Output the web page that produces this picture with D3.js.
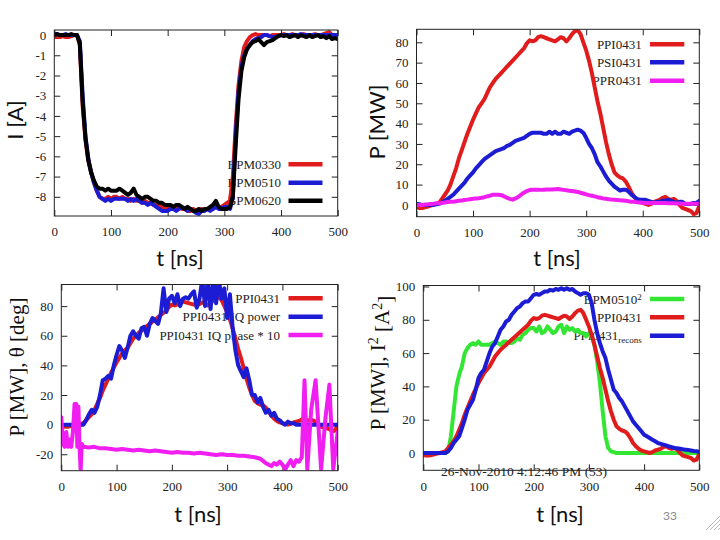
<!DOCTYPE html>
<html><head><meta charset="utf-8">
<script src="https://cdn.jsdelivr.net/npm/d3@7"></script>
<style>body{margin:0;background:#fff} svg{display:block}</style>
</head><body>
<svg id="c" width="720" height="540"></svg>
<script>
// ---------------- DATA ----------------
const tGrid = [0,5,10,15,20,25,30,35,40,45,50,55,60,65,70,75,80,85,90,95,
  100,105,110,115,120,125,130,135,140,145,150,155,160,165,170,175,180,185,190,195,
  200,205,210,215,220,225,230,235,240,245,250,255,260,265,270,275,280,285,290,295,
  300,305,310,315,320,325,330,335,340,345,350,355,360,365,370,375,380,385,390,395,
  400,405,410,415,420,425,430,435,440,445,450,455,460,465,470,475,480,485,490,495,500];
const xTicks = [0,100,200,300,400,500];

// Panel 1: beam current I [A]
const bpm0330 = [-0.1,-0.1,-0.1,-0.05,-0.1,-0.1,-0.05,0,0,
  -0.5,-3.5,-5.2,-6.2,-6.8,-7.3,-7.7,-8.0,-8.1,-8.1,-8.0,
  -8.1,-8.0,-8.0,-8.1,-8.0,-8.1,-8.1,-8.2,-8.1,-8.2,
  -8.2,-8.3,-8.2,-8.3,-8.3,-8.4,-8.4,-8.4,-8.5,-8.5,
  -8.5,-8.5,-8.6,-8.5,-8.5,-8.6,-8.6,-8.7,-8.7,-8.6,
  -8.7,-8.7,-8.6,-8.7,-8.6,-8.6,-8.6,-8.5,-8.5,-8.5,
  -8.4,-8.3,-8.2,-7.0,-4.5,-2.5,-1.3,-0.6,-0.3,-0.1,
  0,0.05,0,0,0,0,-0.05,0,0,0,
  0,0.05,0,0,0.05,0,0,0,0.05,0,
  0,0,0.05,0,0,0.05,0.1,0.15,0,0,
  -0.05];
const bpm0510 = [0.05,0.05,0,0,0.05,0,0,0,0,
  -0.3,-3.0,-5.0,-6.1,-6.8,-7.3,-7.7,-8.0,-8.1,-8.2,-8.1,
  -8.2,-8.1,-8.1,-8.1,-8.1,-8.1,-8.2,-8.1,-8.2,-8.1,
  -8.2,-8.3,-8.3,-8.4,-8.3,-8.4,-8.5,-8.6,-8.7,-8.7,
  -8.7,-8.6,-8.6,-8.7,-8.6,-8.5,-8.6,-8.7,-8.6,-8.7,
  -8.8,-8.85,-8.7,-8.7,-8.6,-8.7,-8.6,-8.5,-8.6,-8.6,
  -8.5,-8.5,-8.6,-8.0,-5.0,-2.8,-1.6,-1.0,-0.7,-0.5,
  -0.3,-0.2,-0.15,-0.1,0,0,-0.05,-0.1,-0.1,-0.05,
  0,0,0,0,0,0,0,0.05,0,0,
  0,0,0,0,0,0,0,0,0,0,
  0];
const bpm0620 = [0,0.05,0,0,0,0,0.05,0,0,
  -0.4,-3.3,-5.1,-6.2,-6.8,-7.2,-7.5,-7.6,-7.6,-7.7,-7.6,
  -7.7,-7.7,-7.7,-7.6,-7.7,-7.8,-7.9,-7.8,-7.6,-7.9,
  -8.0,-8.1,-8.0,-8.0,-8.1,-8.2,-8.2,-8.3,-8.3,-8.4,
  -8.4,-8.4,-8.5,-8.4,-8.4,-8.5,-8.6,-8.5,-8.6,-8.7,
  -8.7,-8.6,-8.7,-8.6,-8.6,-8.5,-8.4,-8.2,-8.5,-8.6,
  -8.6,-8.6,-8.5,-8.0,-5.5,-3.2,-1.8,-1.1,-0.7,-0.5,
  -0.35,-0.3,-0.2,-0.35,-0.5,-0.35,-0.3,-0.25,-0.15,-0.05,
  0,-0.05,0,-0.1,-0.05,0,-0.1,0,-0.05,-0.1,
  0,-0.1,-0.05,0,-0.1,-0.05,-0.15,-0.05,-0.2,-0.15,
  -0.2];

// Panel 2: RF power P [MW]
const ppi0431 = [-1.2,-1.5,-1.5,-1.2,-0.8,-0.3,0,0.5,1.0,
  3,5,7,10,14,18,23,27,31,35,38.5,
  42,45,48,50,52,55,58,60,62,63.5,
  65,66.5,68,69.5,71,72.5,74,75.5,77,79.5,
  81,80.5,81,82.5,83,82.5,82,81.5,81,80.5,
  81.5,82.5,82,80.5,82,84,85.5,86,84,80,
  76,71,65,58,51,45,38,31,25,20,
  16,14.5,13.5,13,11.5,9,6,4,2.5,1.5,
  1,0.5,0,0.5,1.5,2,2.5,3.5,4,3,
  2.5,3,2,0,-1.5,-2,-2.5,-3,-4.5,-4,
  -0.5];
const psi0431 = [0.5,0.3,0,0,0,0,0,0.3,0.5,
  1.2,2,3,4,5,6.5,8,9.5,11,13,14.5,
  16,18,19.5,21,22.5,23.5,24.5,25.5,26.5,27,
  27.5,28,29,29.5,30.5,31.5,32,32.5,33,34,
  35,35.5,35.5,35.5,35.5,35,35,36,35,36,
  35,35,36,35.5,35,36,36.5,37,36.5,35.5,
  33,30,28,25,21,19,16.5,14,12,10.5,
  9,8,7,7.5,7.5,6.5,5,4,3,2.5,
  2.5,2.5,2,1.5,1,1.5,1.5,2,2,2.5,
  2,1.5,1,1.5,1.5,0.5,0.5,0.5,1,1,
  2];
const ppr0431 = [0,0,0,0.2,0.3,0.5,0.6,0.8,0.8,
  1,1.2,1.4,1.5,1.6,1.8,2,2.2,2.4,2.6,2.8,
  3,3.2,3.3,3.5,3.8,4.2,4.6,5,5,5,
  4.8,4.2,3.5,3,2.6,3.2,4,5,6,6.8,
  7.3,7.5,7.5,7.5,7.4,7.5,7.6,7.6,7.6,7.7,
  7.8,7.6,7.4,7.2,7,6.8,6.6,6.4,6,5.6,
  5.2,4.8,4.5,4.2,3.8,3.5,3.2,3,2.8,2.6,
  2.5,2.4,2.3,2.2,2,1.8,1.6,1.5,1.3,1.2,
  1.1,1,1,1,0.9,0.9,0.9,0.9,0.9,0.8,
  0.8,0.8,0.7,0.7,0.6,0.6,0.6,0.6,0.6,0.6,
  0.6];

// Panel 3: IQ power and phase
const iqPower = [0,0,0,0,0,0,0,0,0,
  3,7,10,8,12,20,30,31,33,31,40,
  47,53,50,45,52,60,63,60,58,65,
  66,60,68,72,70,68,75,92,76,85,
  87,82,88,80,85,86,85,88,90,79,
  85,98,80,98,78,98,82,98,85,92,
  72,88,65,50,40,36,32,38,30,20,
  20,15,18,12,8,10,6,8,4,3,
  1,0,2,1,1,0,0,0,0,0,
  0,0,0,0,0,0,0,0,0,0,
  0];
const tPhase = [0,3,6,9,12,15,18,21,24,27,29,31,33,35,37,40,
  50,60,70,80,90,100,110,120,130,140,150,160,170,180,190,200,
  210,220,230,240,250,260,270,280,290,300,310,320,330,340,350,
  360,370,380,385,390,395,400,405,410,415,420,425,430,435,
  440,445,452,460,470,478,485,492,500];
const iqPhase10 = [5,-13,-15,-5,-15,-10,-15,-5,14,14,-15,12,-15,-31,-13,-15,
  -15.5,-15,-16,-16,-16.5,-17,-16.5,-17,-17.5,-17,-17.5,-18,-17.5,-18,-18.5,-19,
  -18.5,-19,-19,-19.5,-19,-19.5,-20,-20.5,-20,-20.5,-20.5,-21,-21,-21.5,-22,
  -23,-26,-28,-26,-27,-25,-27,-30,-27,-24,-28,-24,-25,-22,
  30,-30,10,30,-30,5,27,-30,-5];

// Panel 4: BPM current squared, power, reconstruction
const bpm0510sq = [0,0,0,0,0,0,0,0,0,
  1,10,25,40,47,52,60,63,65,66,65,
  67,65,65,65,65,66,67,66,65,67,
  67,66,66,67,69,68,71,72,74,75,
  75,73,76,72,73,76,74,72,73,76,
  77,72,76,74,75,73,74,72,72,70,
  72,70,65,55,42,25,10,3,1,0.5,
  0,0,0,0,0,0,0,0,0,0,
  0,0,0,0,0,0,0,0,0,0,
  0,0,0,0,0,0,0,0,0,0,
  0];
const ppi0431recons = [0,0,0,0,0,0,0,0,0,
  1,3,6,8,10,15,20,26,29,32,38,
  45,48,50,55,60,64,66,70,74,76,
  79,80,83,85,87,88,90,91,91,93,
  95,95.5,95,96,97,97,98,97.5,98.5,98,
  99,98,99,98,98.5,97,96,95,96,96,
  95,90,80,72,66,61,57,50,44,38,
  36,33,31,28,25,22,19,17,15,13,
  11,10,9,8,7,6,5.5,5,4.5,4,
  3.5,3,2.8,2.5,2.2,2,1.8,1.5,1.2,1,
  0.8];

const yTicks1 = [0,-1,-2,-3,-4,-5,-6,-7,-8];
const yTicks2 = [0,10,20,30,40,50,60,70,80];
const yTicks3 = [-20,0,20,40,60,80];
const yTicks4 = [0,20,40,60,80,100];

const RED = "#e01c1c", BLUE = "#1c1cd4", MAG = "#f01ef0", GRN = "#34e634", BLK = "#000000";

// ---------------- DRAW ----------------
const svg = d3.select("#c");
const defs = svg.append("defs");
const SERIF = "'Liberation Serif','Times New Roman',serif";
const SANS = "Lato,'Open Sans',sans-serif";
const fmt = d => String(d);

function panel(cfg) {
  const x = d3.scaleLinear().domain([0, 500]).range([cfg.x0, cfg.x1]);
  const y = d3.scaleLinear().domain(cfg.yDomain).range([cfg.y1, cfg.y0]);
  const g = svg.append("g");
  const cid = "clip" + cfg.id;
  defs.append("clipPath").attr("id", cid).append("rect")
    .attr("x", cfg.x0).attr("y", cfg.y0)
    .attr("width", cfg.x1 - cfg.x0).attr("height", cfg.y1 - cfg.y0);

  const styleAxis = sel => {
    sel.attr("font-family", SERIF).attr("font-size", 13);
    sel.select(".domain").remove();
    sel.selectAll(".tick line").attr("stroke", "#222").attr("stroke-width", 1);
    sel.selectAll(".tick text").attr("font-family", SERIF).attr("font-size", 13).attr("fill", "#222");
  };
  g.append("g").attr("transform", `translate(0,${cfg.y1})`)
    .call(d3.axisBottom(x).tickValues(xTicks).tickSize(-6).tickPadding(11).tickFormat(fmt)).call(styleAxis);
  g.append("g").attr("transform", `translate(0,${cfg.y0})`)
    .call(d3.axisTop(x).tickValues(xTicks).tickSize(-6).tickFormat("")).call(styleAxis);
  g.append("g").attr("transform", `translate(${cfg.x0},0)`)
    .call(d3.axisLeft(y).tickValues(cfg.yTicks).tickSize(-6).tickPadding(8).tickFormat(fmt)).call(styleAxis);
  g.append("g").attr("transform", `translate(${cfg.x1},0)`)
    .call(d3.axisRight(y).tickValues(cfg.yTicks).tickSize(-6).tickFormat("")).call(styleAxis);

  // legend text (drawn under the curves)
  const leg = g.append("g");
  cfg.series.forEach((s, i) => {
    const ly = cfg.legY[i];
    const tx = leg.append("text").attr("x", cfg.legTextX).attr("y", ly).attr("dy", "0.35em")
      .attr("text-anchor", "end").attr("font-family", SERIF).attr("font-size", 13).attr("fill", "#222");
    tx.append("tspan").text(s.name);
    if (s.sup) tx.append("tspan").attr("dy", "-0.45em").attr("font-size", 9).text(s.sup);
    if (s.sub) tx.append("tspan").attr("dy", "0.3em").attr("font-size", 9).text(s.sub);
  });

  // curves
  const line = d3.line().x(d => x(d[0])).y(d => y(d[1]));
  const cg = g.append("g").attr("clip-path", `url(#${cid})`);
  cfg.series.forEach(s => {
    const pts = s.t.map((t, i) => [t, s.v[i]]);
    cg.append("path").datum(pts).attr("d", line).attr("fill", "none")
      .attr("stroke", s.color).attr("stroke-width", 4)
      .attr("stroke-linejoin", "round").attr("stroke-linecap", "round");
  });
  // legend samples
  cfg.series.forEach((s, i) => {
    g.append("line").attr("x1", cfg.legLine[0]).attr("x2", cfg.legLine[1])
      .attr("y1", cfg.legY[i]).attr("y2", cfg.legY[i])
      .attr("stroke", s.color).attr("stroke-width", 4.5);
  });

  // frame
  g.append("rect").attr("x", cfg.x0).attr("y", cfg.y0)
    .attr("width", cfg.x1 - cfg.x0).attr("height", cfg.y1 - cfg.y0)
    .attr("fill", "none").attr("stroke", "#222").attr("stroke-width", 1);

  // axis titles
  g.append("text").attr("x", cfg.xTitle[0]).attr("y", cfg.xTitle[1]).attr("dy", "0.35em")
    .attr("text-anchor", "middle").attr("font-family", SANS).attr("font-size", 22).attr("fill", "#111")
    .text("t [ns]");
  const yt = g.append("text").attr("transform", `translate(${cfg.yTitle[0]},${cfg.yTitle[1]}) rotate(-90)`)
    .attr("dy", "0.35em").attr("text-anchor", "middle")
    .attr("font-family", cfg.yTitleSerif ? SERIF : SANS).attr("font-size", cfg.yTitleSerif ? 21 : 22).attr("fill", "#111");
  cfg.yTitleParts.forEach(p => {
    const ts = yt.append("tspan").text(p.s);
    if (p.sup) ts.attr("dy", p.dy).attr("font-size", 14);
    else if (p.dy) ts.attr("dy", p.dy);
  });
}

panel({id: 1, x0: 54.3, x1: 337.7, y0: 30, y1: 216, yDomain: [-8.95, 0.25], yTicks: yTicks1,
  legTextX: 281, legLine: [288.5, 322.5], legY: [164.3, 182.7, 200.7],
  xTitle: [180, 258], yTitle: [15, 120], yTitleParts: [{s: "I [A]"}],
  series: [
    {name: "BPM0330", t: tGrid, v: bpm0330, color: RED},
    {name: "BPM0510", t: tGrid, v: bpm0510, color: BLUE},
    {name: "BPM0620", t: tGrid, v: bpm0620, color: BLK}]});

panel({id: 2, x0: 416.5, x1: 699.3, y0: 29.3, y1: 216.7, yDomain: [-5.8, 86.4], yTicks: yTicks2,
  legTextX: 641.7, legLine: [650, 684.3], legY: [44.3, 62.3, 80.7],
  xTitle: [557, 258], yTitle: [377, 122], yTitleParts: [{s: "P [MW]"}],
  series: [
    {name: "PPI0431", t: tGrid, v: ppi0431, color: RED},
    {name: "PSI0431", t: tGrid, v: psi0431, color: BLUE},
    {name: "PPR0431", t: tGrid, v: ppr0431, color: MAG}]});

panel({id: 3, x0: 61.3, x1: 337.7, y0: 284.5, y1: 470.7, yDomain: [-31.1, 94.6], yTicks: yTicks3,
  legTextX: 280, legLine: [288.5, 322.7], legY: [298.3, 316.7, 335],
  xTitle: [198, 514], yTitle: [17, 367], yTitleSerif: true,
  yTitleParts: [{s: "P [MW],  \u03b8 [deg]"}],
  series: [
    {name: "PPI0431", t: tGrid, v: ppi0431, color: RED},
    {name: "PPI0431 IQ power", t: tGrid, v: iqPower, color: BLUE},
    {name: "PPI0431 IQ phase * 10", t: tPhase, v: iqPhase10, color: MAG}]});

panel({id: 4, x0: 423.3, x1: 699.3, y0: 285.5, y1: 470.3, yDomain: [-10.4, 100.6], yTicks: yTicks4,
  legTextX: 641.7, legLine: [650, 684.3], legY: [299, 317.3, 335.7],
  xTitle: [560, 514], yTitle: [378, 363], yTitleSerif: true,
  yTitleParts: [{s: "P [MW], I"}, {s: "2", sup: true, dy: "-0.5em"}, {s: " [A", dy: "0.5em"},
                {s: "2", sup: true, dy: "-0.5em"}, {s: "]", dy: "0.5em"}],
  series: [
    {name: "BPM0510", sup: "2", t: tGrid, v: bpm0510sq, color: GRN},
    {name: "PPI0431", t: tGrid, v: ppi0431, color: RED},
    {name: "PPI0431", sub: "recons", t: tGrid, v: ppi0431recons, color: BLUE}]});

// timestamp and slide number
svg.append("text").attr("x", 441).attr("y", 476).attr("font-family", SERIF).attr("font-size", 13.5)
  .attr("fill", "#222").text("26-Nov-2010 4:12:46 PM (53)");
svg.append("text").attr("x", 670).attr("y", 516).attr("dy", "0.35em").attr("text-anchor", "middle")
  .attr("font-family", SANS).attr("font-size", 12).attr("fill", "#8a8a8a").text("33");
// corner hatch decoration
[0, 4, 8, 12].forEach(o => {
  svg.append("line").attr("x1", 706 + o).attr("y1", 530).attr("x2", 720).attr("y2", 516 + o)
    .attr("stroke", "#aaa").attr("stroke-width", 0.8);
});
</script>
</body></html>
